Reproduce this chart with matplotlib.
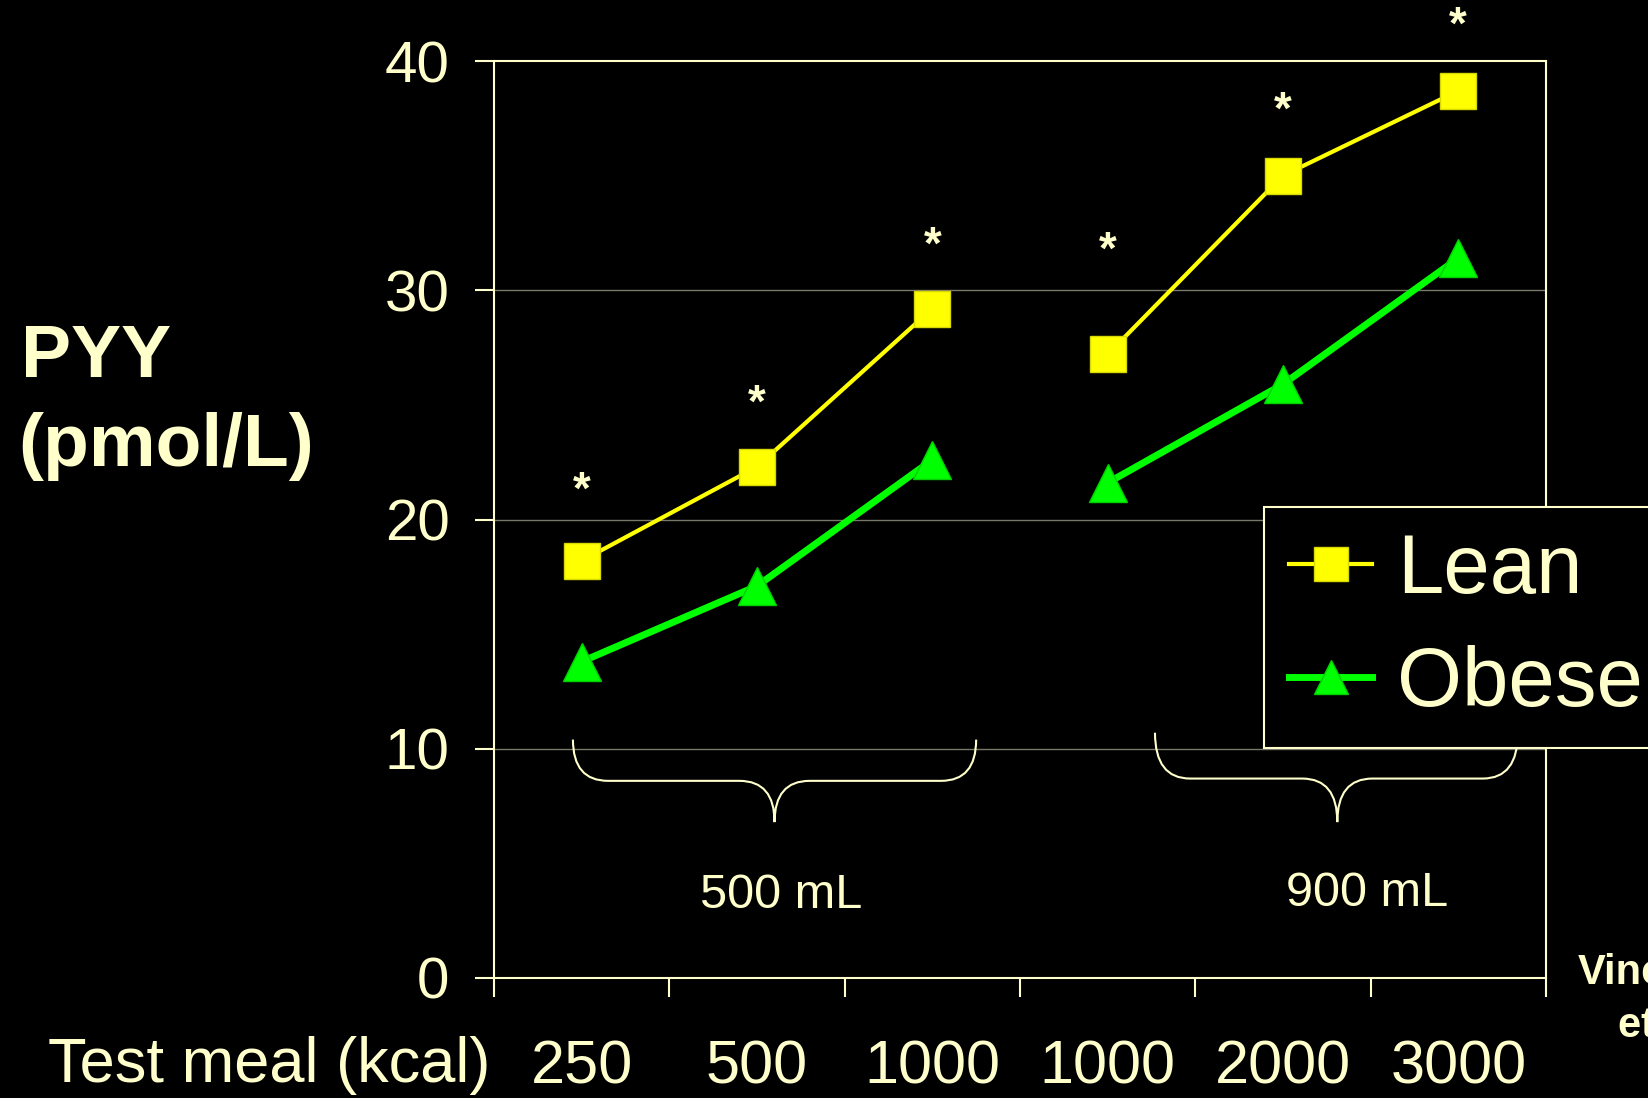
import numpy as np
import matplotlib
matplotlib.use('Agg')
import matplotlib.pyplot as plt
from matplotlib.path import Path
from matplotlib.patches import PathPatch

# datos
comidas = ['250', '500', '1000', '1000', '2000', '3000']
lean = [18.2, 22.3, 29.2, 27.2, 35.0, 38.7]
obese = [13.8, 17.1, 22.6, 21.6, 25.9, 31.4]
estrellas = [21.2, 25.0, 31.9, 31.7, 37.8, 41.5]
grupos = ['500 mL', '900 mL']

CREMA = '#FFFFCC'

plt.rcParams['font.family'] = ['Liberation Sans', 'DejaVu Sans']

fig = plt.figure(figsize=(16.49, 10.98), dpi=100, facecolor='black')
ax = fig.add_axes([0.2996, 0.1093, 0.9375 - 0.2996, 0.9444 - 0.1093])
ax.set_facecolor('black')

x = np.arange(len(comidas)) + 0.5

ax.plot(x[:3], lean[:3], color='#FFFF00', lw=3, marker='s', ms=26,
        mfc='#FFFF00', mec='#D8D800', label='Lean', zorder=4)
ax.plot(x[3:], lean[3:], color='#FFFF00', lw=3, marker='s', ms=26,
        mfc='#FFFF00', mec='#D8D800', zorder=4)
ax.plot(x[:3], obese[:3], color='#00FF00', lw=5, marker='^', ms=28,
        mfc='#00FF00', mec='#00D000', label='Obese', zorder=3)
ax.plot(x[3:], obese[3:], color='#00FF00', lw=5, marker='^', ms=28,
        mfc='#00FF00', mec='#00D000', zorder=3)

for xi, yi in zip(x, estrellas):
    ax.text(xi, yi, '*', color=CREMA, fontsize=33, fontweight='bold',
            ha='center', va='center', clip_on=False)

ax.set_xlim(0, 6)
ax.set_ylim(0, 40)
ax.set_yticks([0, 10, 20, 30, 40])
ax.set_xticks(np.arange(0, 7))
ax.set_xticklabels([])
ax.set_xticks(x, minor=True)
ax.set_xticklabels(comidas, minor=True)

ax.tick_params(axis='y', colors=CREMA, labelsize=42, length=14, width=1.5,
               pad=18, direction='out')
ax.tick_params(axis='x', which='major', colors=CREMA, length=14, width=1.5,
               direction='out')
ax.tick_params(axis='x', which='minor', colors=CREMA, labelsize=44, length=0,
               pad=44)

for s in ax.spines.values():
    s.set_color(CREMA)
    s.set_linewidth(1.5)

for yv in [10, 20, 30]:
    ax.axhline(yv, color='#77776A', lw=1, zorder=1)


# llaves debajo de cada grupo
def llave(ax, x0, x1, xm, ytop, ymid, ytip, rx=0.2):
    verts = [(x0, ytop), (x0, ymid), (x0 + rx, ymid),
             (xm - rx, ymid),
             (xm, ymid), (xm, ytip),
             (xm, ymid), (xm + rx, ymid),
             (x1 - rx, ymid),
             (x1, ymid), (x1, ytop)]
    codes = [Path.MOVETO, Path.CURVE3, Path.CURVE3,
             Path.LINETO,
             Path.CURVE3, Path.CURVE3,
             Path.CURVE3, Path.CURVE3,
             Path.LINETO,
             Path.CURVE3, Path.CURVE3]
    ax.add_patch(PathPatch(Path(verts, codes), fill=False, edgecolor=CREMA,
                           lw=1.5, clip_on=False, zorder=2))


llave(ax, 0.45, 2.75, 1.60, 10.4, 8.6, 6.8)
llave(ax, 3.77, 5.84, 4.81, 10.7, 8.7, 6.8)

ax.text(1.64, 3.6, grupos[0], color=CREMA, fontsize=35, ha='center', va='center')
ax.text(4.98, 3.7, grupos[1], color=CREMA, fontsize=35, ha='center', va='center')

leg = ax.legend(loc='upper left', bbox_to_anchor=(0.7665, 0.5383),
                bbox_transform=fig.transFigure, fontsize=60, frameon=True,
                fancybox=False, handlelength=1.0, handletextpad=0.3,
                borderpad=0.3, labelspacing=0.42, borderaxespad=0)
leg.get_frame().set_facecolor('black')
leg.get_frame().set_edgecolor(CREMA)
leg.get_frame().set_linewidth(1.5)
leg.get_frame().set_alpha(1)
for t in leg.get_texts():
    t.set_color(CREMA)
for h in leg.legend_handles:
    h.set_markersize(25)

fig.text(0.013, 0.674, 'PYY', color=CREMA, fontsize=54, fontweight='bold',
         ha='left', va='center')
fig.text(0.011, 0.593, '(pmol/L)', color=CREMA, fontsize=54, fontweight='bold',
         ha='left', va='center')
fig.text(0.029, 0.030, 'Test meal (kcal)', color=CREMA, fontsize=45.5,
         ha='left', va='center')

fig.text(0.957, 0.114, 'Vincent', color=CREMA, fontsize=30, fontweight='bold',
         ha='left', va='center')
fig.text(0.981, 0.066, 'et al.', color=CREMA, fontsize=30, fontweight='bold',
         ha='left', va='center')

fig.savefig('out.png', dpi=100, facecolor='black')
